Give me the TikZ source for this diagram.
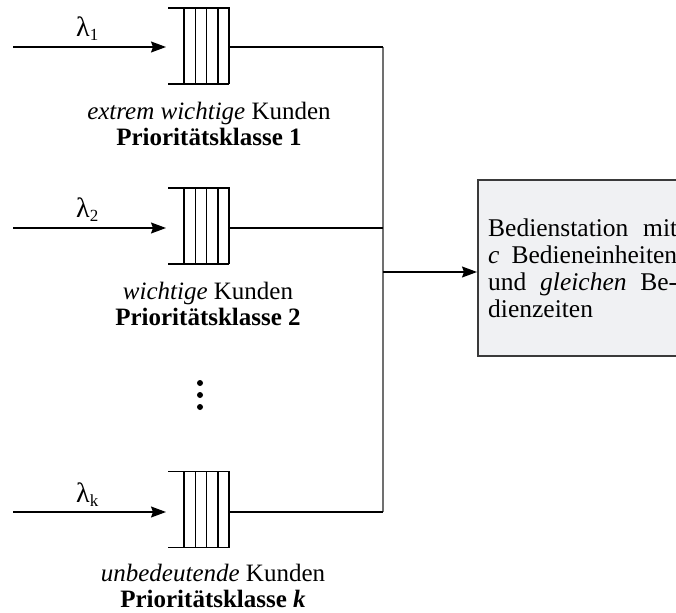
\documentclass[tikz,border=0pt]{standalone}
\usepackage{fontspec}
\setmainfont{Liberation Serif}
\usetikzlibrary{arrows.meta,calc}
\definecolor{boxfill}{HTML}{F0F1F3}
\definecolor{boxline}{HTML}{3A3A3A}
\definecolor{junc}{HTML}{707070}
\tikzset{
  queuebox/.style={minimum width=61pt, minimum height=76pt, inner sep=0pt, outer sep=0pt},
  wire/.style={line width=1.4pt, black},
  jwire/.style={line width=1.6pt, junc},
  arr/.style={line width=1.4pt, -{Stealth[length=15pt,width=11pt,inset=2pt]}},
  lbl/.style={align=center, font=\fontsize{25}{26.5}\selectfont, inner sep=0pt},
  lam/.style={font=\fontsize{28}{28}\selectfont, inner sep=0pt, anchor=base west},
  dot/.style={circle, fill=black, minimum size=6pt, inner sep=0pt},
  station/.style={draw=boxline, fill=boxfill, line width=1.8pt, minimum width=230pt, minimum height=176pt, anchor=north west, inner sep=0pt},
  stationtext/.style={font=\fontsize{25.5}{27}\selectfont, align=left, inner sep=0pt, anchor=north west}
}
\newcommand{\qlines}[1]{%
  \draw[wire] (#1.north west) -- (#1.north east) -- (#1.south east);
  \draw[wire] (#1.south west) -- (#1.south east);
  \foreach \f in {0.262,0.45,0.63,0.82} {
    \draw[wire] ($(#1.north west)!\f!(#1.north east)$) -- ($(#1.south west)!\f!(#1.south east)$);
  }
}
\newcommand{\lamsub}[1]{λ\raisebox{-4pt}{\fontsize{17}{17}\selectfont #1}}
\begin{document}
\begin{tikzpicture}[x=1pt,y=-1pt]
\useasboundingbox (0,0) rectangle (676,612);
\clip (0,0) rectangle (676,612);
% queues
\node[queuebox] (q1) at (198.5,46) {};
\node[queuebox] (q2) at (198.5,226) {};
\node[queuebox] (qk) at (198.5,509.5) {};
\qlines{q1}
\qlines{q2}
\qlines{qk}
% input coordinates
\coordinate (in1) at (13,47);
\coordinate (in2) at (13,228);
\coordinate (ink) at (13,512);
\draw[arr] (in1) -- (166,47);
\draw[arr] (in2) -- (166,228);
\draw[arr] (ink) -- (166,512);
% lambda labels
\node[lam] (l1) at (76,37) {\lamsub{1}};
\node[lam] (l2) at (76,218) {\lamsub{2}};
\node[lam] (lk) at (76,502) {\lamsub{k}};
% outputs to junction
\coordinate (j1) at (383,47);
\coordinate (j2) at (383,228);
\coordinate (jk) at (383,512);
\coordinate (jm) at (383,272);
\draw[jwire] (j1) -- (jk);
\draw[wire] (q1.east |- j1) -- (j1);
\draw[wire] (q2.east |- j2) -- (j2);
\draw[wire] (qk.east |- jk) -- (jk);
% station
\node[station] (st) at (477,179) {};
\draw[arr] (jm) -- (jm -| st.west);
\node[stationtext] (stt) at (488,219) {%
\makebox[189pt][s]{Bedienstation mit}\\
\makebox[189pt][s]{\textit{c} Bedieneinheiten}\\
\makebox[189pt][s]{und \textit{gleichen} Be-}\\
dienzeiten};
% labels
\node[lbl] (t1) at (209,124) {\textit{extrem wichtige} Kunden\\\textbf{Prioritätsklasse 1}};
\node[lbl] (t2) at (208,304) {\textit{wichtige} Kunden\\\textbf{Prioritätsklasse 2}};
\node[lbl] (tk) at (213,586) {\textit{unbedeutende} Kunden\\\textbf{Prioritätsklasse \textit{k}}};
% dots
\node[dot] (d1) at (200,383) {};
\node[dot] (d2) at (200,395) {};
\node[dot] (d3) at (200,407) {};
\end{tikzpicture}
\end{document}
